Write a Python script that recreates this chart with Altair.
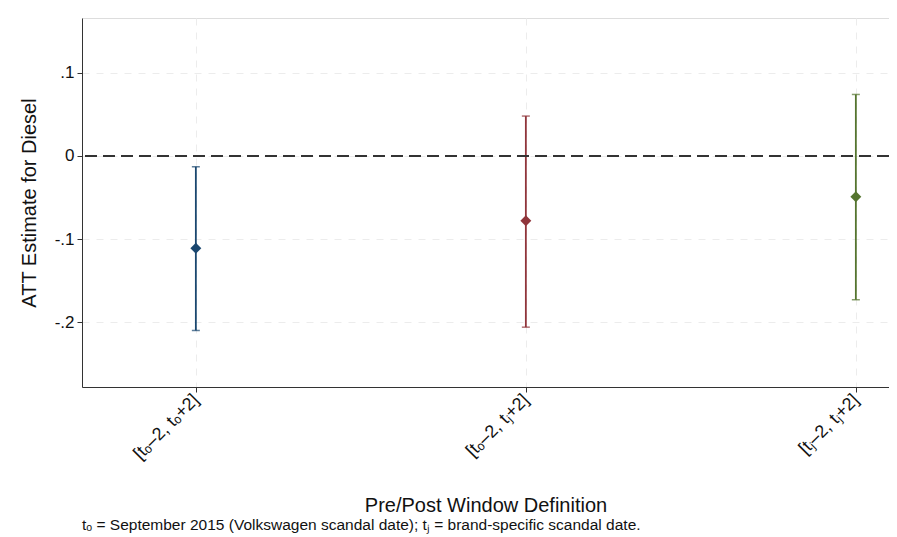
import altair as alt
import pandas as pd

labels = ["[tₒ–2, tₒ+2]", "[tₒ–2, tⱼ+2]", "[tⱼ–2, tⱼ+2]"]
positions = [1, 2, 3]
estimates = [-0.111, -0.078, -0.049]
ci_low = [-0.210, -0.206, -0.173]
ci_high = [-0.013, 0.048, 0.074]
colors = ["#1a476f", "#90353b", "#55752f"]

df = pd.DataFrame({"pos": positions, "label": labels, "est": estimates,
                   "lo": ci_low, "hi": ci_high})

FONT = "Liberation Sans"
W = 807
xdom = [0.655, 0.655 + W / 330.0]
ydom = [-0.278, 0.166]

label_expr = ("datum.value == 1 ? '" + labels[0] + "' : datum.value == 2 ? '" + labels[1]
              + "' : '" + labels[2] + "'")

x_enc = alt.X("pos:Q", scale=alt.Scale(domain=xdom, nice=False, zero=False),
              axis=alt.Axis(values=positions, labelExpr=label_expr, labelAngle=-45,
                            labelAlign="right", labelBaseline="middle",
                            title="Pre/Post Window Definition", titleFontSize=20,
                            titleFontWeight="normal", titlePadding=33,
                            labelFontSize=18, labelPadding=5, tickSize=5,
                            grid=True, gridDash=[7, 7], gridColor="#ececec",
                            domainColor="#333333", tickColor="#333333",
                            labelColor="#111111", titleColor="#111111"))
y_enc = alt.Y("est:Q", scale=alt.Scale(domain=ydom, nice=False, zero=False),
              axis=alt.Axis(values=[-0.2, -0.1, 0, 0.1],
                            labelExpr="datum.value == 0 ? '0' : replace(replace(format(datum.value, '.1f'), '0.', '.'), '−', '-')",
                            title="ATT Estimate for Diesel", titleFontSize=20,
                            titleFontWeight="normal", titlePadding=15,
                            labelFontSize=17, labelPadding=3, tickSize=5,
                            grid=True, gridDash=[7, 7], gridColor="#ececec",
                            domainColor="#333333", tickColor="#333333",
                            labelColor="#111111", titleColor="#111111"))

color_enc = alt.Color("label:N", scale=alt.Scale(domain=labels, range=colors), legend=None)

base = alt.Chart(df)

zero = alt.Chart(pd.DataFrame({"z": [0]})).mark_rule(
    color="#333333", strokeDash=[12, 6], strokeWidth=2
).encode(y=alt.Y("z:Q", scale=alt.Scale(domain=ydom, nice=False, zero=False)))

rules = base.mark_rule(strokeWidth=1.8).encode(
    x=x_enc, y=alt.Y("lo:Q"), y2="hi:Q", color=color_enc)
caps_lo = base.mark_tick(orient="horizontal", size=8, thickness=1.5).encode(
    x="pos:Q", y="lo:Q", color=color_enc)
caps_hi = base.mark_tick(orient="horizontal", size=8, thickness=1.5).encode(
    x="pos:Q", y="hi:Q", color=color_enc)
pts = base.mark_point(shape="diamond", filled=True, size=120, opacity=1).encode(
    x="pos:Q", y=y_enc, color=color_enc)

chart = alt.layer(rules, zero, caps_lo, caps_hi, pts).properties(
    width=W, height=369,
    autosize=alt.AutoSizeParams(type="none"),
    padding={"left": 74, "top": 10, "right": 0, "bottom": 148},
    title=alt.TitleParams(
        "tₒ = September 2015 (Volkswagen scandal date); tⱼ = brand-specific scandal date.",
        orient="bottom", anchor="start", frame="group", fontSize=15.5,
        fontWeight="normal", font=FONT, color="#111111", offset=2),
).configure_view(stroke=None).configure(font=FONT, background="white").configure_axis(
    labelFont=FONT, titleFont=FONT)

chart.save("out.html", embed_options={"renderer": "svg", "actions": False})
